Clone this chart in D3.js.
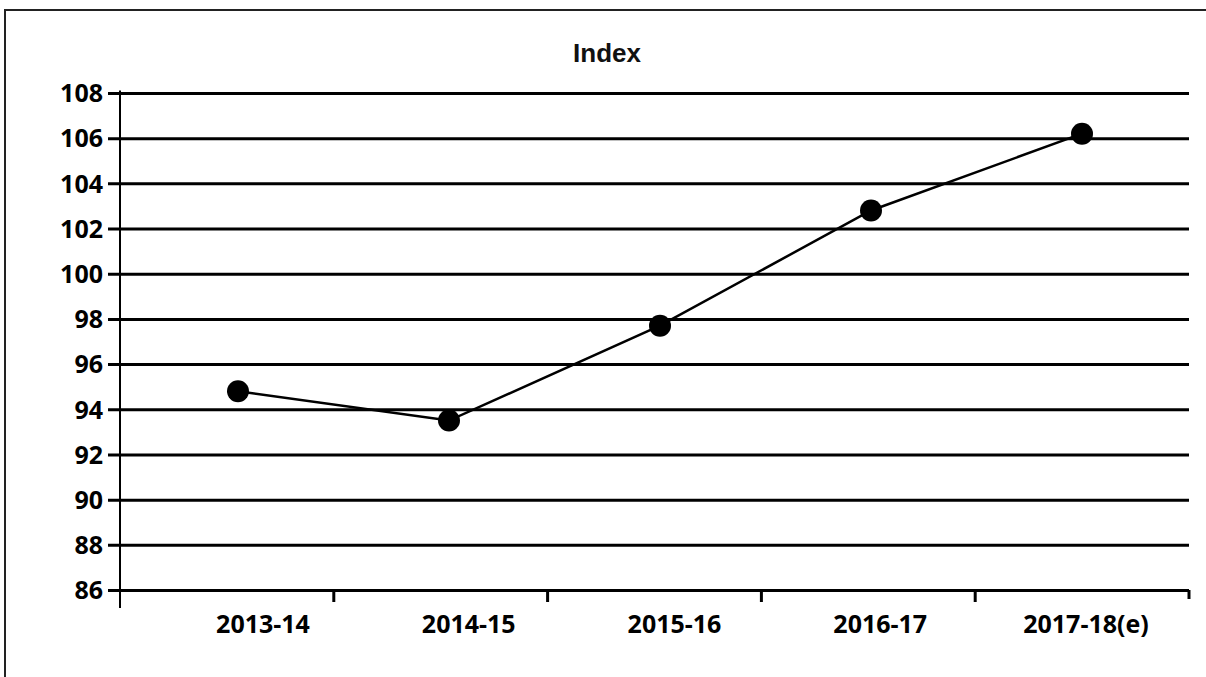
<!DOCTYPE html>
<html>
<head>
<meta charset="utf-8">
<script src="https://cdn.jsdelivr.net/npm/d3@7"></script>
<style>
  html, body { margin: 0; padding: 0; background: #fff; }
  svg { display: block; }
</style>
</head>
<body>
<svg id="chart" width="1206" height="677"></svg>
<script>
const categories = ["2013-14", "2014-15", "2015-16", "2016-17", "2017-18(e)"];
const indexValues = [94.8, 93.5, 97.7, 102.8, 106.2];
const yTicks = [86, 88, 90, 92, 94, 96, 98, 100, 102, 104, 106, 108];
const chartTitle = "Index";

(function () {
const svg = d3.select("#chart");
const W = 1206, H = 677;

svg.append("rect").attr("width", W).attr("height", H).attr("fill", "#fff");
// outer border: only left and top edges are visible in the frame
svg.append("path")
  .attr("d", `M5,${H + 5}V10H${W + 5}`)
  .attr("fill", "none").attr("stroke", "#222").attr("stroke-width", 2);

const pLeft = 120, pRight = 1189, pTop = 93, pBottom = 590;

const y = d3.scaleLinear().domain([86, 108]).range([pBottom, pTop]);
const xBand = d3.scaleBand().domain(categories).range([pLeft, pRight]);
const xPoint = d3.scalePoint().domain(categories).range([238, 1082]);
const xLabel = d3.scalePoint().domain(categories).range([263, 1086]);

const font = "'Open Sans', 'Lato', 'DejaVu Sans', sans-serif";

// title
svg.append("text")
  .attr("x", 607).attr("y", 62)
  .attr("text-anchor", "middle")
  .attr("font-family", "'Liberation Sans', Arial, sans-serif")
  .attr("font-weight", "bold")
  .attr("font-size", 26)
  .attr("fill", "#111")
  .text(chartTitle);

// gridlines + y ticks
const yAxis = d3.axisLeft(y).tickValues(yTicks).tickSize(-(pRight - pLeft)).tickPadding(0).tickFormat(d3.format("d"));
const gy = svg.append("g").attr("transform", `translate(${pLeft},0)`).call(yAxis);
gy.select(".domain").remove();
gy.selectAll(".tick line")
  .attr("x1", -12).attr("x2", pRight - pLeft)
  .attr("stroke", "#000").attr("stroke-width", 3);
gy.selectAll(".tick text")
  .attr("x", -17).attr("dy", "0.35em")
  .attr("font-family", font).attr("font-weight", 700).attr("font-size", 25)
  .attr("fill", "#000");

// y axis vertical line
svg.append("line")
  .attr("x1", pLeft).attr("x2", pLeft)
  .attr("y1", y(108) - 2.5).attr("y2", pBottom + 18)
  .attr("stroke", "#000").attr("stroke-width", 2);

// x axis tick marks at band boundaries
const boundaries = categories.map(c => xBand(c)).concat([xBand(categories[categories.length - 1]) + xBand.bandwidth()]);
svg.append("g").selectAll("line").data(boundaries.slice(1)).join("line")
  .attr("x1", d => d).attr("x2", d => d)
  .attr("y1", pBottom).attr("y2", (d, i) => i === boundaries.length - 2 ? pBottom + 9 : pBottom + 12)
  .attr("stroke", "#000").attr("stroke-width", 3);

// x labels
svg.append("g").selectAll("text").data(categories).join("text")
  .attr("x", d => xLabel(d)).attr("y", 633)
  .attr("text-anchor", "middle")
  .attr("font-family", font).attr("font-weight", 700).attr("font-size", 25)
  .attr("fill", "#000")
  .text(d => d);

// line
const data = categories.map((c, i) => ({ c, v: indexValues[i] }));
svg.append("path").datum(data)
  .attr("fill", "none").attr("stroke", "#000").attr("stroke-width", 2.5)
  .attr("d", d3.line().x(d => xPoint(d.c)).y(d => y(d.v)));

// markers
svg.append("g").selectAll("circle").data(data).join("circle")
  .attr("cx", d => xPoint(d.c)).attr("cy", d => y(d.v)).attr("r", 11)
  .attr("fill", "#000");
})();
</script>
</body>
</html>
